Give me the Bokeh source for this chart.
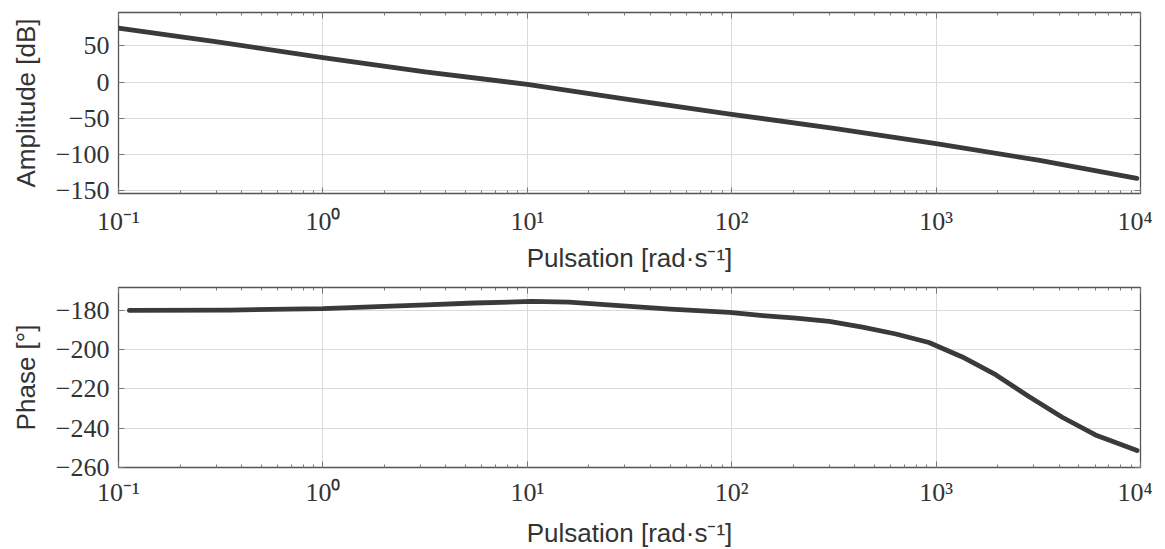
from bokeh.plotting import figure
from bokeh.layouts import column
from bokeh.models import (LogAxis, LinearAxis, FixedTicker, CustomJSTickFormatter, Range1d)
from bokeh.embed import file_html
from bokeh.resources import INLINE

# ---------------- data ----------------
freq_amp = [0.1, 0.316, 1, 3.16, 10, 31.6, 100, 316, 1000, 3162, 9600]
amp_db = [74.4, 54.6, 33.8, 14.0, -3.2, -24.4, -44.6, -64.0, -85.2, -108.0, -133.0]

freq_phase = [0.113, 0.35, 1, 3.2, 5.5, 10.5, 16, 27, 50, 97.5, 142, 206, 300, 436,
              636, 922, 1343, 1955, 2843, 4140, 6018, 9620]
phase_deg = [-180.0, -179.8, -179.1, -177.1, -176.2, -175.4, -175.8, -177.4, -179.3,
             -181.0, -182.6, -183.9, -185.6, -188.5, -192.0, -196.3, -203.7, -212.7,
             -223.8, -234.4, -243.4, -251.4]

x_tick_values = [0.1, 1, 10, 100, 1000, 10000]
x_tick_labels = ["10\u207b\u00b9", "10\u2070", "10\u00b9", "10\u00b2", "10\u00b3", "10\u2074"]
amp_ticks = [50, 0, -50, -100, -150]
phase_ticks = [-180, -200, -220, -240, -260]

x_label = "Pulsation [rad\u00b7s\u207b\u00b9]"
amp_label = "Amplitude [dB]"
phase_label = "Phase [\u00b0]"

# ---------------- style ----------------
LINE_COLOR = "#3a3a3a"
GRID_COLOR = "#dadada"
FRAME_COLOR = "#555555"
TICK_COLOR = "#777777"
SERIF = "Liberation Serif"
SANS = "Liberation Sans"

minor_x = [m * 10.0 ** k for k in range(-1, 4) for m in range(2, 10)]


def x_ticker():
    return FixedTicker(ticks=x_tick_values, minor_ticks=minor_x)


def x_formatter():
    return CustomJSTickFormatter(args=dict(vals=x_tick_values, labels=x_tick_labels), code="""
        let best = 0, bd = 1e9;
        for (let i = 0; i < vals.length; i++) {
            const d = Math.abs(Math.log10(vals[i]) - Math.log10(tick));
            if (d < bd) { bd = d; best = i; }
        }
        return labels[best];
    """)


def y_formatter():
    return CustomJSTickFormatter(code="return String(tick).replace('-', '\\u2212');")


def style_axis(ax, minor=True):
    ax.axis_line_color = None
    ax.major_tick_in = 6
    ax.major_tick_out = 0
    ax.major_tick_line_color = TICK_COLOR
    ax.minor_tick_in = 3 if minor else 0
    ax.minor_tick_out = 0
    ax.minor_tick_line_color = TICK_COLOR if minor else None


def hide_labels(ax):
    ax.major_label_text_font_size = "1px"
    ax.major_label_text_alpha = 0
    ax.major_label_standoff = 0


def make_fig(y_range, y_ticks, y_label, frame_h, top, bottom, tick_standoff, label_standoff, xs, ys):
    p = figure(x_axis_type="log", x_range=Range1d(0.1, 10000), y_range=y_range,
               frame_width=1022, frame_height=frame_h,
               min_border_left=118, min_border_right=12,
               min_border_top=top, min_border_bottom=bottom,
               output_backend="svg", toolbar_location=None,
               background_fill_color="white", border_fill_color="white")
    p.outline_line_color = FRAME_COLOR
    p.outline_line_width = 1.3

    xt = x_ticker()
    yt = FixedTicker(ticks=y_ticks, minor_ticks=[])

    xa = p.xaxis[0]
    xa.ticker = xt
    xa.formatter = x_formatter()
    xa.axis_label = x_label
    xa.axis_label_text_font = SANS
    xa.axis_label_text_font_style = "normal"
    xa.axis_label_text_font_size = "26px"
    xa.axis_label_text_color = "#333333"
    xa.axis_label_standoff = label_standoff
    xa.major_label_text_font = SERIF
    xa.major_label_text_font_size = "26px"
    xa.major_label_text_color = "#333333"
    xa.major_label_standoff = tick_standoff
    style_axis(xa)

    ya = p.yaxis[0]
    ya.ticker = yt
    ya.formatter = y_formatter()
    ya.axis_label = y_label
    ya.axis_label_text_font = SANS
    ya.axis_label_text_font_style = "normal"
    ya.axis_label_text_font_size = "26px"
    ya.axis_label_text_color = "#333333"
    ya.axis_label_standoff = 12
    ya.major_label_text_font = SERIF
    ya.major_label_text_font_size = "26px"
    ya.major_label_text_color = "#333333"
    ya.major_label_standoff = 9
    style_axis(ya, minor=False)

    top_ax = LogAxis(ticker=xt)
    style_axis(top_ax)
    hide_labels(top_ax)
    p.add_layout(top_ax, "above")
    right_ax = LinearAxis(ticker=yt)
    style_axis(right_ax, minor=False)
    hide_labels(right_ax)
    p.add_layout(right_ax, "right")

    p.xgrid.ticker = xt
    p.ygrid.ticker = yt
    p.xgrid.grid_line_color = GRID_COLOR
    p.ygrid.grid_line_color = GRID_COLOR
    p.xgrid.grid_line_width = 1
    p.ygrid.grid_line_width = 1

    p.line(xs, ys, line_color=LINE_COLOR, line_width=4.8, line_cap="round", line_join="round")
    return p


p1 = make_fig(Range1d(-154, 96), amp_ticks, amp_label, 181, 12, 82, 13, 4, freq_amp, amp_db)
p2 = make_fig(Range1d(-260, -168.3), phase_ticks, phase_label, 180, 12, 78, 10, 8, freq_phase, phase_deg)

layout = column(p1, p2, spacing=0)
open("out.html", "w").write(file_html(layout, INLINE))
